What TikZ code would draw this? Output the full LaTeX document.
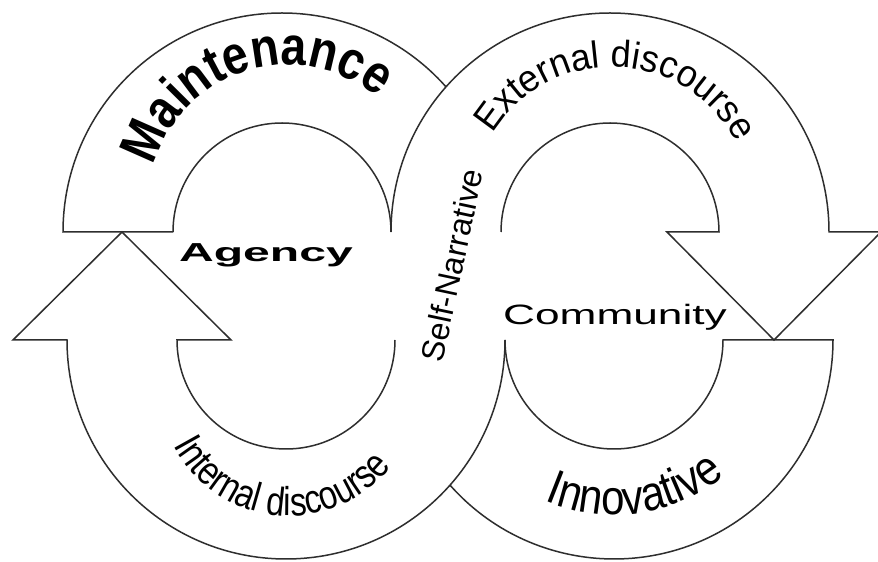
\documentclass[tikz,border=0pt]{standalone}
\usepackage{fontspec}
\setmainfont{Liberation Sans}
\usetikzlibrary{decorations.text}
\begin{document}
\begin{tikzpicture}[x=1pt,y=1pt,
  band/.style={draw=black!82, line width=1.5pt, line join=miter},
  arctext/.style n args={3}{decorate, decoration={text effects along path,
      text={#1}, text align=center,
      text effects/.cd, text along path,
      characters={inner sep=0pt, font=#2, yscale=#3}}},
  flat/.style={inner sep=0pt, text=black}]
\clip (0,0) rectangle (878,562);
\fill[white] (0,0) rectangle (878,562);
% centres of the four half rings
\coordinate (L1) at (282,330);
\coordinate (R1) at (610,330);
\coordinate (L2) at (286,222);
\coordinate (R2) at (614,222);
% centres of the circles that carry the curved labels
\coordinate (tMaint) at (288,357);
\coordinate (tExt) at (612,355);
\coordinate (tInt) at (289,176);
\coordinate (tInno) at (614,222);

% upper left ring (passes under the upper right one)
\draw[band] ([shift={(180:109)}]L1) -- ([shift={(180:219)}]L1)
  arc[start angle=180, end angle=41.5, radius=219];
\draw[band] ([shift={(180:109)}]L1) arc[start angle=180, end angle=0, radius=109];

% upper right ring ending in a downward arrow head
\draw[band] ([shift={(180:219)}]R1) arc[start angle=180, end angle=0, radius=219]
  -- ++(52,0) -- (774,222) -- (667,330) -- ([shift={(0:109)}]R1)
  arc[start angle=0, end angle=180, radius=109];

% lower left ring ending in an upward arrow head
\draw[band] ([shift={(0:109)}]L2) arc[start angle=0, end angle=-180, radius=109]
  -- (231,222) -- (122,330) -- (13,222) -- ([shift={(180:219)}]L2)
  arc[start angle=180, end angle=360, radius=219];

% lower right ring (passes under the lower left one)
\draw[band] ([shift={(221.5:219)}]R2) arc[start angle=221.5, end angle=360, radius=219]
  -- ([shift={(0:109)}]R2) arc[start angle=0, end angle=-180, radius=109];

% curved labels
\path[arctext={Maintenance}{\bfseries\fontsize{46}{46}\selectfont}{1.18}]
  ([shift={(197:140)}]tMaint) arc[start angle=197, end angle=17, radius=140];
\path[arctext={External discourse}{\fontsize{36}{36}\selectfont}{1.05}]
  ([shift={(178:140)}]tExt) arc[start angle=178, end angle=-2, radius=140];
\path[arctext={Internal discourse}{\fontsize{33}{33}\selectfont}{1.22}]
  ([shift={(184.5:130)}]tInt) arc[start angle=184.5, end angle=344.5, radius=130];
\path[arctext={Innovative}{\fontsize{42}{42}\selectfont}{1.16}]
  ([shift={(218:175)}]tInno) arc[start angle=218, end angle=338, radius=175];

% straight labels
\node[flat, xscale=1.85, font=\bfseries\fontsize{26}{26}\selectfont, anchor=base]
  (agency) at (266,300) {Agency};
\node[flat, xscale=1.58, font=\fontsize{28}{28}\selectfont, anchor=base]
  (community) at (615,237) {Community};
\node[flat, rotate=78, font=\fontsize{32}{32}\selectfont]
  (selfnarr) at (452,297) {Self-Narrative};
\end{tikzpicture}
\end{document}
